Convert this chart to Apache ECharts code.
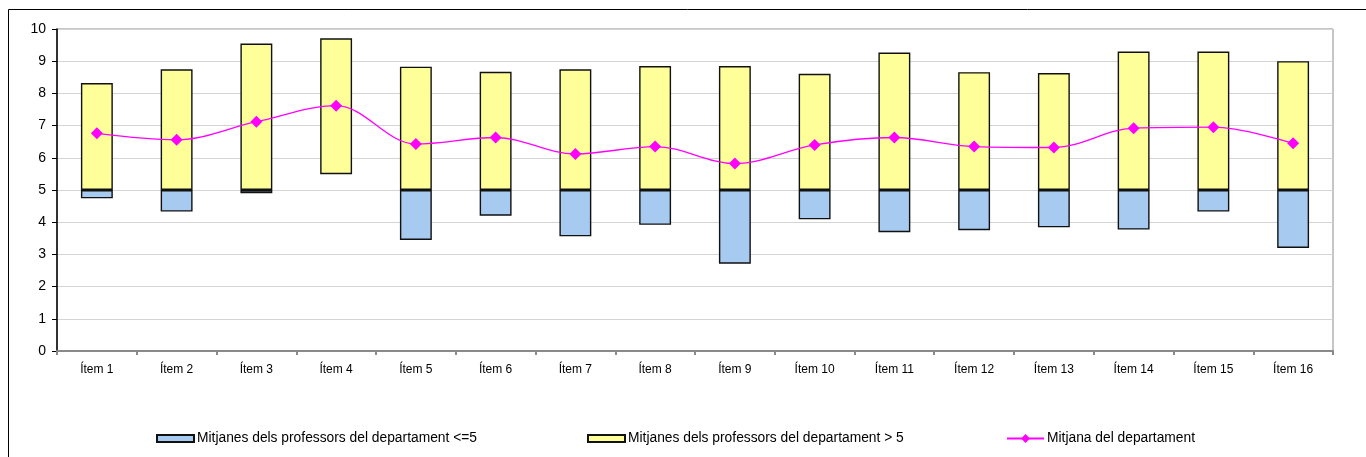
<!DOCTYPE html>
<html>
<head>
<meta charset="utf-8">
<script src="https://cdn.jsdelivr.net/npm/echarts@6/dist/echarts.min.js"></script>
<style>
html,body{margin:0;padding:0;background:#fff;}
#c{width:1366px;height:457px;}
</style>
</head>
<body>
<div id="c"></div>
<script>
const categories = ['Ítem 1','Ítem 2','Ítem 3','Ítem 4','Ítem 5','Ítem 6','Ítem 7','Ítem 8','Ítem 9','Ítem 10','Ítem 11','Ítem 12','Ítem 13','Ítem 14','Ítem 15','Ítem 16'];
const lows  = [4.74,4.33,4.90,5.49,3.45,4.20,3.56,3.92,2.71,4.09,3.69,3.75,3.84,3.77,4.33,3.20];
const highs = [8.32,8.75,9.55,9.71,8.83,8.67,8.75,8.85,8.85,8.61,9.27,8.66,8.63,9.30,9.30,9.00];
const means = [6.76,6.56,7.12,7.62,6.43,6.63,6.12,6.35,5.82,6.40,6.63,6.35,6.32,6.92,6.95,6.45];
const threshold = 5;
const yTicks = [0,1,2,3,4,5,6,7,8,9,10];

const nameLow = 'Mitjanes dels professors del departament <=5';
const nameHigh = 'Mitjanes dels professors del departament > 5';
const nameMean = 'Mitjana del departament';

const baseVals = lows.slice();
const lowVals = lows.map(l => l < threshold ? +(threshold - l).toFixed(3) : '-');
const highVals = highs.map((h, i) => +(h - Math.max(lows[i], threshold)).toFixed(3));

const FONT = 'Liberation Sans, Arial, sans-serif';
const chart = echarts.init(document.getElementById('c'));
const legendCommon = {
  orient: 'horizontal', top: 431.5, itemGap: 0, padding: 0,
  itemWidth: 37, itemHeight: 7,
  textStyle: {fontFamily: FONT, fontSize: 13.8, color: '#000', padding: [0,0,0,-2]},
  selectedMode: false
};
chart.setOption({
  animation: false,
  graphic: [{
    type: 'rect', silent: true, z: 100,
    shape: {x: 8.5, y: 9.5, width: 1400, height: 500},
    style: {fill: 'none', stroke: '#000', lineWidth: 1}
  }],
  legend: [
    Object.assign({}, legendCommon, {left: 156, icon: 'rect', data: [nameLow]}),
    Object.assign({}, legendCommon, {left: 587, icon: 'rect', data: [nameHigh]}),
    Object.assign({}, legendCommon, {left: 1006, itemHeight: 11,
      data: [nameMean],
      lineStyle: {width: 2, color: '#ff00ff'}})
  ],
  grid: {left: 57, right: 33, top: 29, bottom: 106, show: true, borderColor: '#8c8c8c', borderWidth: 1, backgroundColor: 'transparent'},
  xAxis: {
    type: 'category', data: categories, boundaryGap: true,
    axisLine: {show: true, lineStyle: {color: '#8a8a8a', width: 2}},
    axisTick: {show: true, alignWithLabel: false, length: 4, lineStyle: {color: '#8a8a8a', width: 2}},
    axisLabel: {fontFamily: FONT, fontSize: 12, color: '#000', margin: 13, interval: 0},
    splitLine: {show: false}
  },
  yAxis: {
    type: 'value', min: yTicks[0], max: yTicks[yTicks.length-1], interval: 1,
    axisLine: {show: true, lineStyle: {color: '#000', width: 1.5}},
    axisTick: {show: true, length: 5, lineStyle: {color: '#000'}},
    axisLabel: {fontFamily: FONT, fontSize: 14, color: '#000', margin: 11},
    splitLine: {show: true, lineStyle: {color: '#d4d4d4', width: 1}}
  },
  series: [
    {
      name: 'base', type: 'bar', stack: 's', data: baseVals, barWidth: '40%',
      itemStyle: {color: 'transparent', borderWidth: 0}, silent: true,
      emphasis: {disabled: true}
    },
    {
      name: nameLow, type: 'bar', stack: 's', data: lowVals,
      itemStyle: {color: '#a6caf0', borderColor: '#111', borderWidth: 1.4},
      emphasis: {disabled: true}
    },
    {
      name: nameHigh, type: 'bar', stack: 's', data: highVals,
      itemStyle: {color: '#ffff99', borderColor: '#111', borderWidth: 1.4},
      emphasis: {disabled: true}
    },
    {
      name: nameMean, type: 'line', data: means, smooth: 0.35,
      symbol: 'diamond', symbolSize: [12, 12], showSymbol: true,
      lineStyle: {color: '#ff00ff', width: 1.3},
      itemStyle: {color: '#ff00ff'},
      z: 5, emphasis: {disabled: true}
    }
  ]
});
</script>
</body>
</html>
